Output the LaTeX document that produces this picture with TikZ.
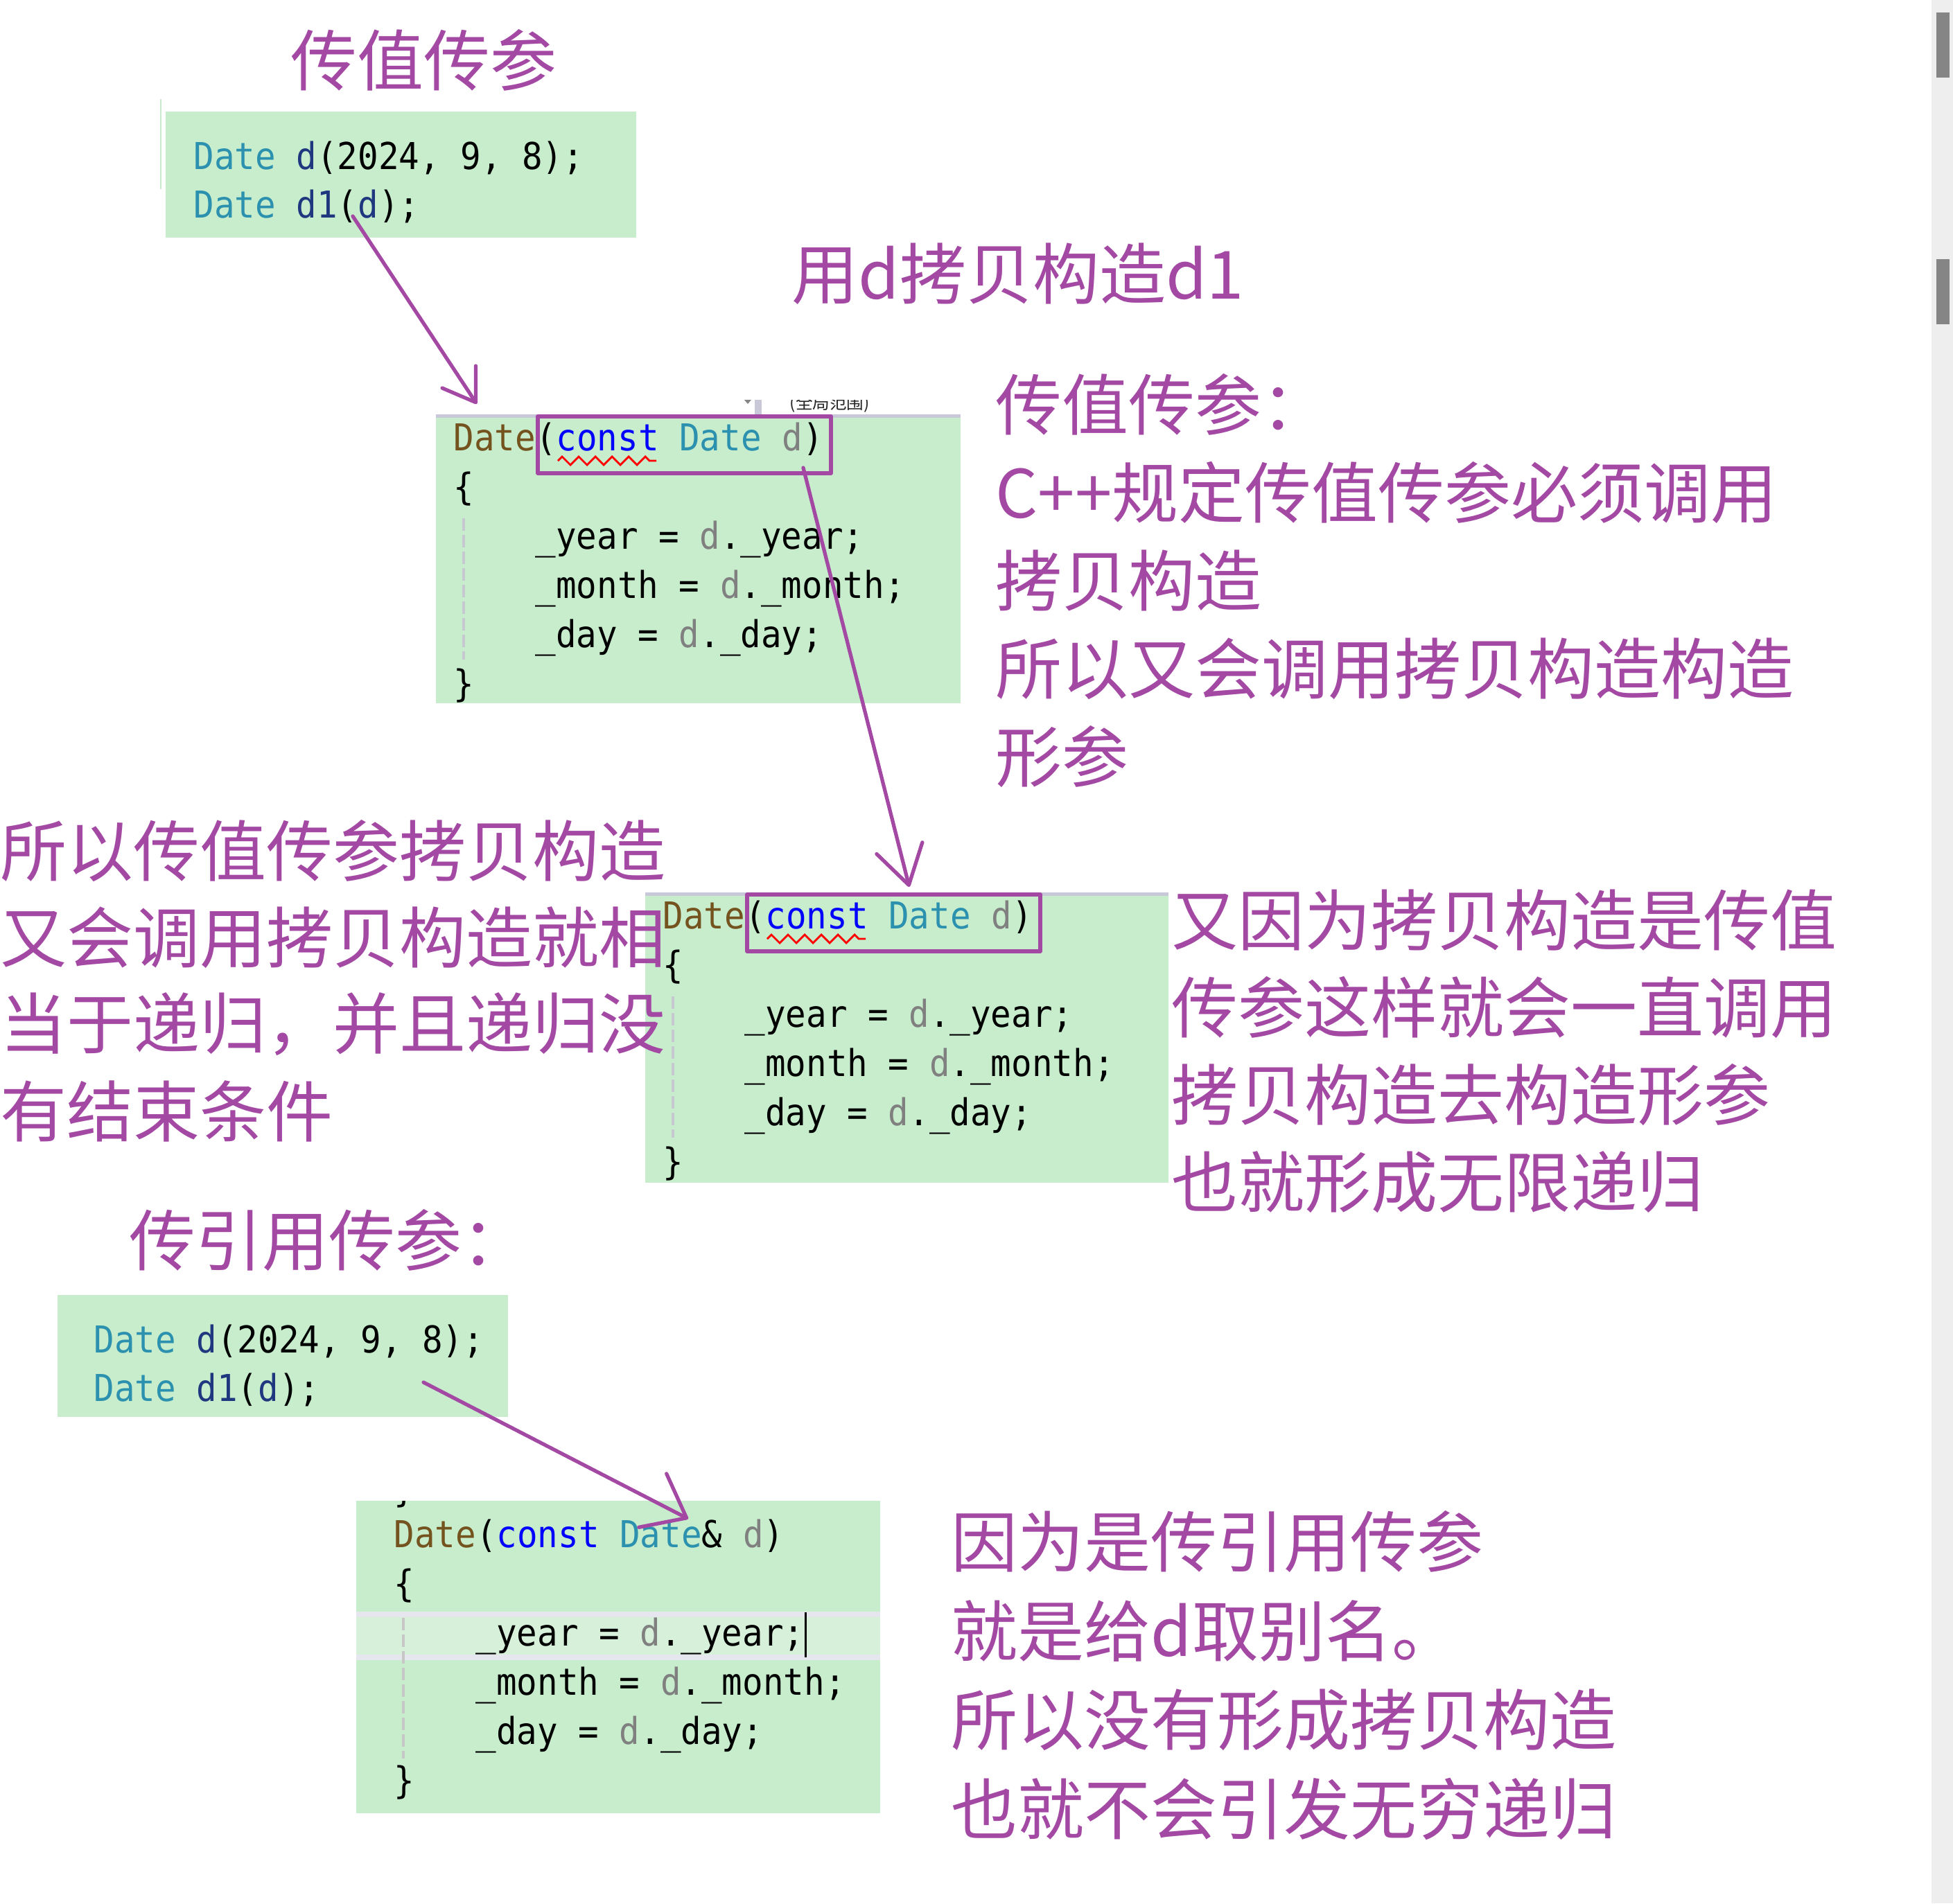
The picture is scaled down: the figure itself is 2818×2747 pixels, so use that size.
\documentclass[tikz,border=0pt]{standalone}
\usepackage{fontspec}
\setmonofont[FakeStretch=0.92]{DejaVu Sans Mono}
\newfontfamily\cjk{Noto Sans CJK SC}
\usetikzlibrary{arrows.meta,calc,decorations.pathmorphing}
\definecolor{codegreen}{RGB}{199,237,204}
\definecolor{hlgreen}{RGB}{214,240,218}
\definecolor{hlbar}{RGB}{230,230,238}
\definecolor{stripgray}{RGB}{200,200,216}
\definecolor{guidegray}{RGB}{200,200,208}
\definecolor{notepurple}{RGB}{163,73,164}
\definecolor{typeteal}{RGB}{43,145,175}
\definecolor{funcbrown}{RGB}{116,83,31}
\definecolor{keyblue}{RGB}{0,0,255}
\definecolor{varnavy}{RGB}{31,55,127}
\definecolor{paramgray}{RGB}{128,128,128}
\definecolor{scrollbg}{RGB}{238,238,238}
\definecolor{thumbgray}{RGB}{133,133,133}
\newcommand\notefont{\cjk\fontsize{27.3pt}{33pt}\selectfont}
\newcommand\codefont{\ttfamily\fontsize{15.2pt}{20pt}\selectfont}
\newcommand\cType[1]{\textcolor{typeteal}{#1}}
\newcommand\cFunc[1]{\textcolor{funcbrown}{#1}}
\newcommand\cKey[1]{\textcolor{keyblue}{#1}}
\newcommand\cVar[1]{\textcolor{varnavy}{#1}}
\newcommand\cParam[1]{\textcolor{paramgray}{#1}}
\tikzset{
  codebox/.style={fill=codegreen, inner sep=0pt, outer sep=0pt, anchor=north west},
  codeline/.style={font=\codefont, inner sep=0pt, anchor=base west},
  note/.style={font=\notefont, text=notepurple, inner sep=0pt, anchor=west},
  pen/.style={draw=notepurple, line width=1.5pt, line cap=round, line join=round},
  squiggle/.style={draw=red, line width=0.8pt, decorate,
                   decoration={zigzag, segment length=0.24cm, amplitude=0.06cm}},
  guide/.style={draw=guidegray, line width=0.9pt, dash pattern=on 0.18cm off 0.06cm},
}

\begin{document}
\begin{tikzpicture}[x=0.01cm, y=-0.01cm]
\useasboundingbox (0,0) rectangle (2818,2747);

% code panels
\node[codebox, minimum width=6.79cm, minimum height=1.82cm] (box1) at (239,161) {};
\node[codebox, minimum width=7.57cm, minimum height=4.17cm] (box2) at (629,598) {};
\node[codebox, minimum width=7.55cm, minimum height=4.19cm] (box3) at (931,1288) {};
\node[codebox, minimum width=6.50cm, minimum height=1.76cm] (box4) at (83,1869) {};
\node[codebox, minimum width=7.56cm, minimum height=4.51cm] (box5) at (514,2166) {};

% editor bits
\draw[line width=0.6pt, codegreen] (232,143) -- (232,273);
\foreach \b in {box2,box3}
  \fill[stripgray] (\b.north west) rectangle ($(\b.north east)+(0,5)$);
\fill[thumbgray] (1074,577) -- (1084,577) -- (1079,583) -- cycle;
\fill[stripgray] (1089,577) rectangle (1099,598);
\begin{scope}
  \clip (1120,577) rectangle (1290,598);
  \node[font=\cjk\fontsize{7pt}{8pt}\selectfont, text=black!85, inner sep=0pt, anchor=west]
    (scopehint) at (1139,582) {(全局范围)};
\end{scope}
\fill[hlbar] ($(box5.north west)+(0,160)$) rectangle ($(box5.north east)+(0,230)$);
\fill[hlgreen] ($(box5.north west)+(0,168)$) rectangle ($(box5.north east)+(0,222)$);
\foreach \b in {box2,box3}
  \draw[guide] ($(\b.north west)+(40,150)$) -- ++(0,204);
\draw[guide, draw=black!22] ($(box5.north west)+(68,169)$) -- ++(0,203);

% code text
\foreach \b/\dx in {box1/40, box4/52}{
  \node[codeline] (\b-l1) at ($(\b.north west)+(\dx,83)$) {\cType{Date} \cVar{d}(2024, 9, 8);};
  \node[codeline] (\b-l2) at ($(\b.north west)+(\dx,153)$) {\cType{Date} \cVar{d1}(\cVar{d});};
}
\foreach \b in {box2,box3}{
  \node[codeline] (\b-l1) at ($(\b.north west)+(25,52)$) {\cFunc{Date}(\cKey{const} \cType{Date} \cParam{d})};
  \node[codeline] (\b-l2) at ($(\b.north west)+(25,123)$) {\{};
  \node[codeline] (\b-l3) at ($(\b.north west)+(143,194)$) {\_year = \cParam{d}.\_year;};
  \node[codeline] (\b-l4) at ($(\b.north west)+(143,265)$) {\_month = \cParam{d}.\_month;};
  \node[codeline] (\b-l5) at ($(\b.north west)+(143,336)$) {\_day = \cParam{d}.\_day;};
  \node[codeline] (\b-l6) at ($(\b.north west)+(25,407)$) {\}};
}
\begin{scope}
  \clip (box5.north west) rectangle (box5.south east);
  \node[codeline] (box5-l0) at ($(box5.north west)+(54,1)$) {\}};
\end{scope}
\node[codeline] (box5-l1) at ($(box5.north west)+(54,67)$) {\cFunc{Date}(\cKey{const} \cType{Date}\& \cParam{d})};
\node[codeline] (box5-l2) at ($(box5.north west)+(54,138)$) {\{};
\node[codeline] (box5-l3) at ($(box5.north west)+(172,209)$) {\_year = \cParam{d}.\_year;};
\node[codeline] (box5-l4) at ($(box5.north west)+(172,280)$) {\_month = \cParam{d}.\_month;};
\node[codeline] (box5-l5) at ($(box5.north west)+(172,351)$) {\_day = \cParam{d}.\_day;};
\node[codeline] (box5-l6) at ($(box5.north west)+(54,422)$) {\}};
\draw[line width=0.85pt] ($(box5.north west)+(648,161)$) -- ++(0,65);

% marks on the parameter
\foreach \b in {box2,box3}{
  \draw[pen] ($(\b.north west)+(147,3)$) rectangle ($(\b.north west)+(570,85)$);
  \draw[squiggle] ($(\b.north west)+(176,67)$) -- ++(142,0);
}

% arrows
\coordinate (a1s) at (509,312);
\coordinate (a1e) at (688,583);
\coordinate (a2s) at (1159,675);
\coordinate (a2e) at (1312,1280);
\coordinate (a3s) at (611,1995);
\coordinate (a3e) at (993,2192);
\draw[pen, -{Straight Barb[length=0.44cm, width=0.58cm, round]}] (a1s) -- (a1e);
\draw[pen, -{Straight Barb[length=0.55cm, width=0.68cm, round]}] (a2s) -- (a2e);
\draw[pen, -{Straight Barb[length=0.55cm, width=0.87cm, round]}] (a3s) -- (a3e);

% notes
\node[note] (title1) at (419,87) {传值传参};
\node[note] (copyd1) at (1142,395) {用d拷贝构造d1};
\foreach \t [count=\i from 0] in {传值传参：, C++规定传值传参必须调用, 拷贝构造, 所以又会调用拷贝构造构造, 形参}
  \node[note] (rule\i) at (1436,584+127*\i) {\t};
\foreach \t [count=\i from 0] in {所以传值传参拷贝构造, 又会调用拷贝构造就相, 当于递归，并且递归没, 有结束条件}
  \node[note] (recur\i) at (0,1228+125.3*\i) {\t};
\foreach \t [count=\i from 0] in {又因为拷贝构造是传值, 传参这样就会一直调用, 拷贝构造去构造形参, 也就形成无限递归}
  \node[note] (loop\i) at (1690,1328+126*\i) {\t};
\node[note] (title2) at (186,1790) {传引用传参：};
\foreach \t [count=\i from 0] in {因为是传引用传参, 就是给d取别名。, 所以没有形成拷贝构造, 也就不会引发无穷递归}
  \node[note] (alias\i) at (1372,2225+128.7*\i) {\t};

% scroll bar
\fill[scrollbg] (2787,0) rectangle (2818,2747);
\fill[thumbgray] (2794,18) rectangle (2813,112);
\fill[thumbgray] (2794,374) rectangle (2813,468);
\end{tikzpicture}
\end{document}
